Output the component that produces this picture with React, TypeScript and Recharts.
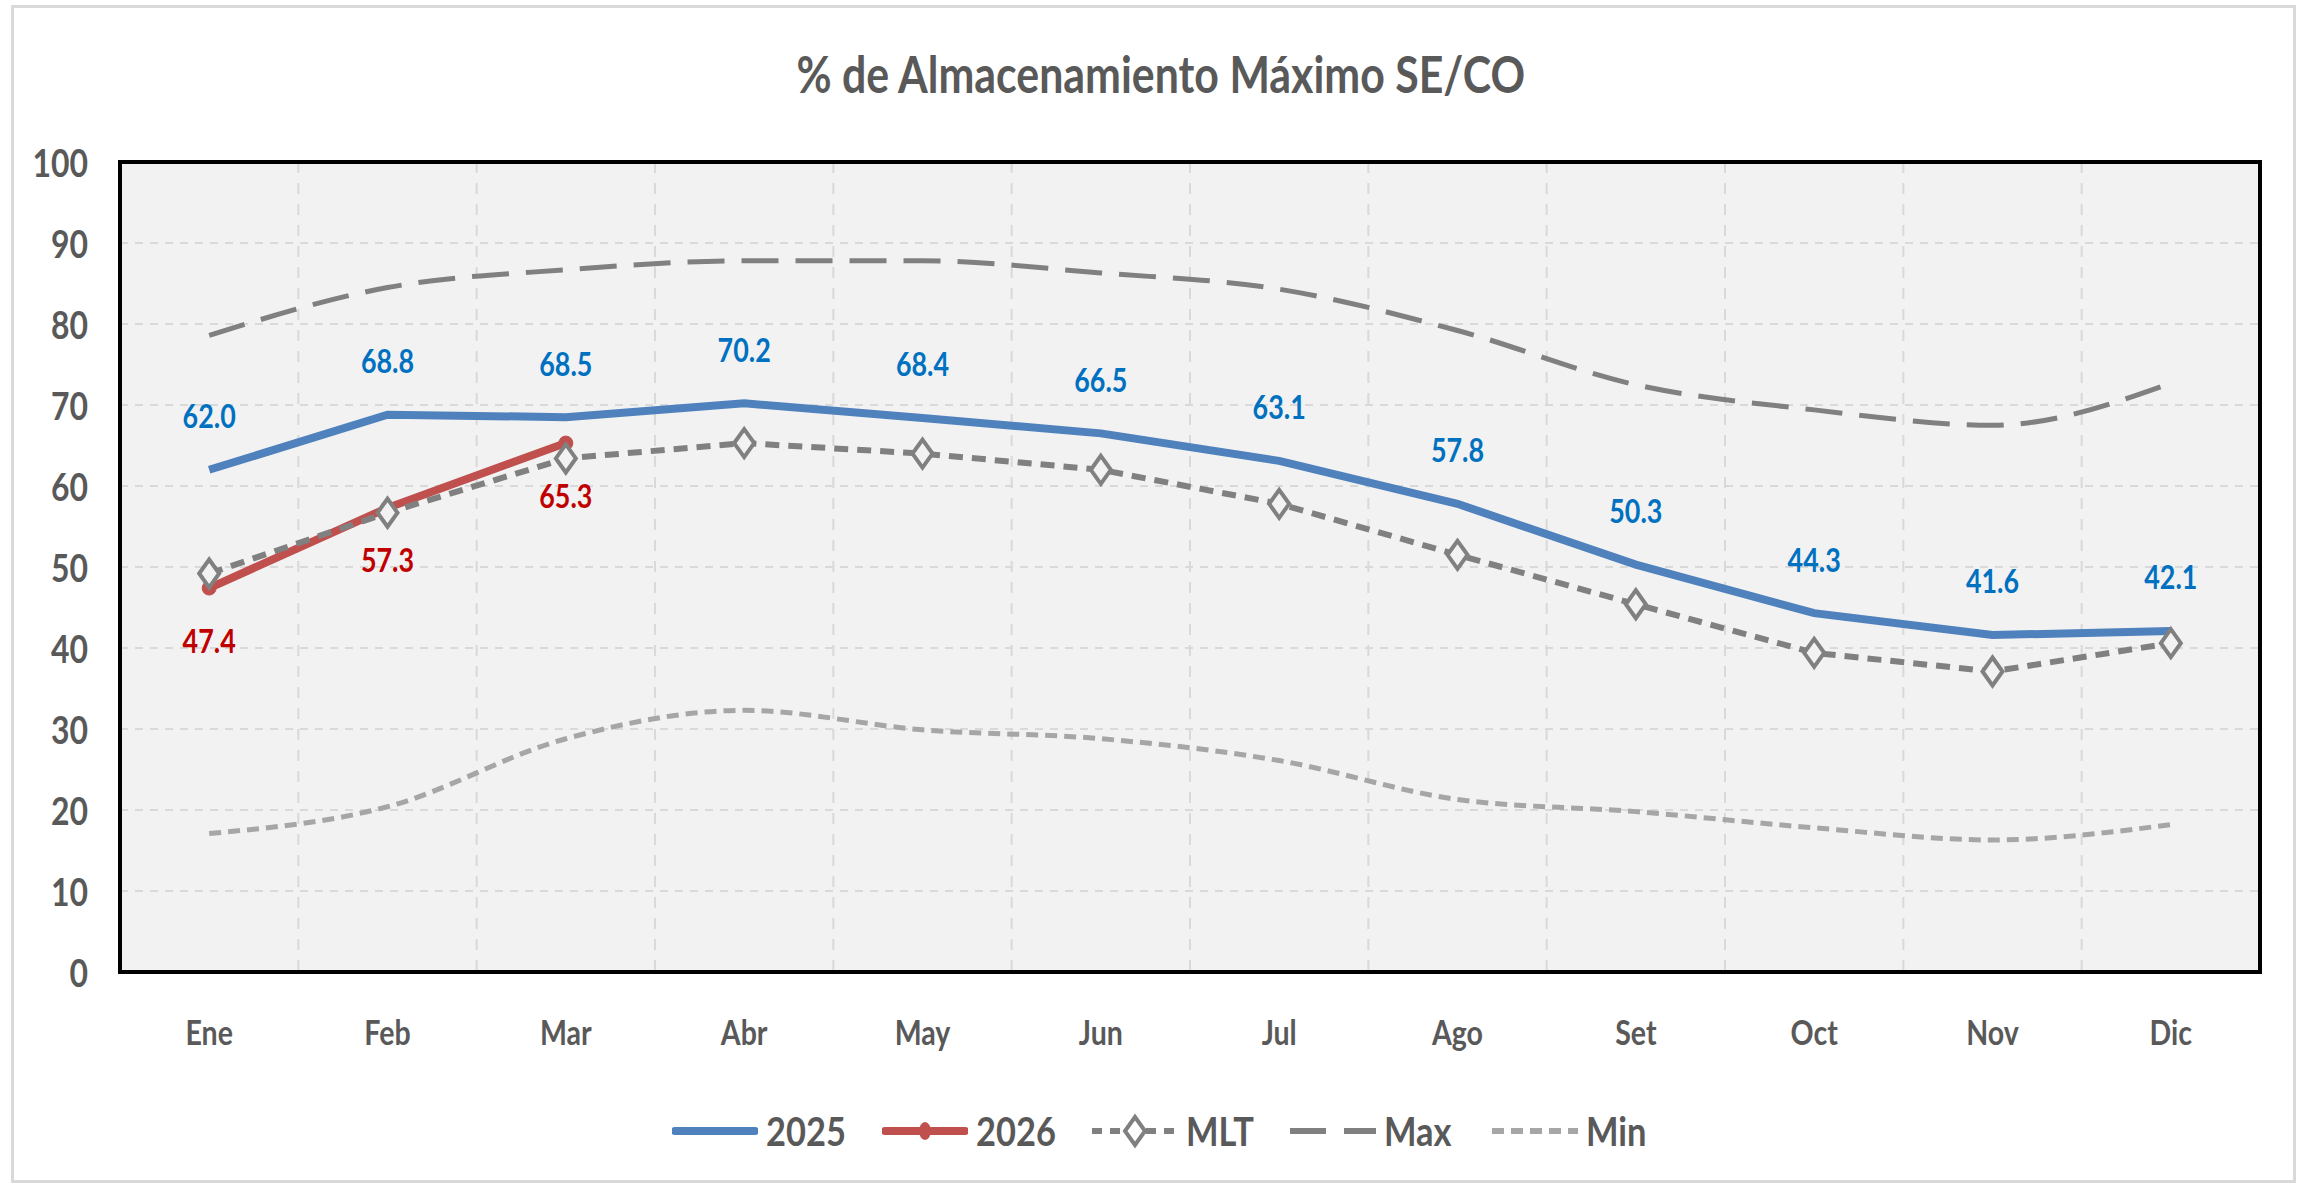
import { LineChart, Line, XAxis, YAxis, CartesianGrid, Legend } from "recharts";

const MONTHS = ["Ene", "Feb", "Mar", "Abr", "May", "Jun", "Jul", "Ago", "Set", "Oct", "Nov", "Dic"];
const S2025 = [62.0, 68.8, 68.5, 70.2, 68.4, 66.5, 63.1, 57.8, 50.3, 44.3, 41.6, 42.1];
const S2026 = [47.4, 57.3, 65.3];
const MLT = [49.2, 56.7, 63.4, 65.3, 64.0, 62.0, 57.8, 51.5, 45.4, 39.4, 37.1, 40.6];
const MAX = [78.6, 84.5, 86.7, 87.8, 87.8, 86.3, 84.3, 79.2, 72.5, 69.4, 67.5, 72.7];
const MIN = [17.1, 20.4, 28.8, 32.3, 29.9, 28.8, 26.1, 21.3, 19.8, 17.8, 16.3, 18.2];
const Y_TICKS = [0, 10, 20, 30, 40, 50, 60, 70, 80, 90, 100];

const FONT = "Lato, 'Open Sans', sans-serif";
const SX = 0.84; // squeeze text horizontally, reference font is narrow
const GREY_TXT = "#595959";
const C2025 = "#4F81BD";
const C2026 = "#C0504D";
const CMLT = "#808080";
const CMAX = "#808080";
const CMIN = "#A6A6A6";

const data = MONTHS.map((m, i) => ({
  m,
  a2025: S2025[i],
  a2026: i < S2026.length ? S2026[i] : null,
  mlt: MLT[i],
  max: MAX[i],
  min: MIN[i],
}));

// narrow svg text
const NText = ({ x, y, anchor = "middle", size, fill, children }: any) => (
  <text transform={`translate(${x},${y}) scale(${SX},1)`} x={0} y={0} textAnchor={anchor}
    dominantBaseline="central" fill={fill}
    style={{ fontFamily: FONT, fontWeight: "bold", fontSize: size }}>
    {children}
  </text>
);

const YTick = ({ x, y, payload }: any) => (
  <NText x={x} y={y} anchor="end" size={38} fill={GREY_TXT}>{payload.value}</NText>
);

const XTick = ({ x, y, payload }: any) => (
  <NText x={x} y={y} size={34} fill={GREY_TXT}>{payload.value}</NText>
);

const labelAbove = (props: any) => {
  const { x, y, value, index } = props;
  if (value == null) return null;
  return (
    <g key={`l25-${index}`}>
      <NText x={x} y={y - 54} size={32} fill="#0070C0">{Number(value).toFixed(1)}</NText>
    </g>
  );
};

const labelBelow = (props: any) => {
  const { x, y, value, index } = props;
  if (value == null) return null;
  return (
    <g key={`l26-${index}`}>
      <NText x={x} y={y + 52} size={32} fill="#C00000">{Number(value).toFixed(1)}</NText>
    </g>
  );
};

const Diamond = (props: any) => {
  const { cx, cy, index } = props;
  if (cx == null || cy == null) return null;
  return (
    <path key={`d-${index}`} d={`M${cx},${cy - 14} L${cx + 10},${cy} L${cx},${cy + 14} L${cx - 10},${cy} Z`}
      fill="#F2F2F2" stroke={CMLT} strokeWidth={4} />
  );
};

const LEGEND = [
  { name: "2025", kind: "solid", w: 76 },
  { name: "2026", kind: "dot", w: 76 },
  { name: "MLT", kind: "mlt", w: 64 },
  { name: "Max", kind: "max", w: 68 },
  { name: "Min", kind: "min", w: 64 },
];

const LegendIcon = ({ kind }: { kind: string }) => (
  <svg width={86} height={40} style={{ display: "block" }}>
    {kind === "solid" && <line x1={3} y1={20} x2={83} y2={20} stroke={C2025} strokeWidth={8} strokeLinecap="round" />}
    {kind === "dot" && (
      <g>
        <line x1={3} y1={20} x2={83} y2={20} stroke={C2026} strokeWidth={8} strokeLinecap="round" />
        <ellipse cx={43} cy={20} rx={6} ry={9} fill={C2026} />
      </g>
    )}
    {kind === "mlt" && (
      <g>
        <line x1={0} y1={20} x2={86} y2={20} stroke={CMLT} strokeWidth={6} strokeDasharray="10 8" />
        <path d="M43,6 L53,20 L43,34 L33,20 Z" fill="#FFFFFF" stroke={CMLT} strokeWidth={4} />
      </g>
    )}
    {kind === "max" && <line x1={0} y1={20} x2={86} y2={20} stroke={CMAX} strokeWidth={6} strokeDasharray="36 18" />}
    {kind === "min" && <line x1={0} y1={20} x2={86} y2={20} stroke={CMIN} strokeWidth={6} strokeDasharray="12 7" />}
  </svg>
);

const LegendBox = () => (
  <div style={{ display: "flex", justifyContent: "center", alignItems: "center", gap: 40, paddingLeft: 16 }}>
    {LEGEND.map((it) => (
      <div key={it.name} style={{ display: "flex", alignItems: "center", gap: 8 }}>
        <LegendIcon kind={it.kind} />
        <div style={{ width: it.w, whiteSpace: "nowrap" }}>
          <span style={{ display: "inline-block", transform: `scaleX(${SX})`, transformOrigin: "left center",
            fontFamily: FONT, fontWeight: "bold", fontSize: 41, color: GREY_TXT }}>{it.name}</span>
        </div>
      </div>
    ))}
  </div>
);

const bandEdges = ({ offset }: any) => {
  const left = offset?.left ?? 120;
  const width = offset?.width ?? 2140;
  return MONTHS.slice(1).map((_, k) => left + (width * (k + 1)) / MONTHS.length);
};

export default function App() {
  return (
    <div style={{ position: "absolute", left: 0, top: 0, width: 2305, height: 1189, background: "#fff" }}>
      <div style={{ position: "absolute", left: 11, top: 5, width: 2285, height: 1178, border: "3px solid #D9D9D9", boxSizing: "border-box" }} />
      <div style={{ position: "absolute", left: 8, top: 44, width: 2305, textAlign: "center", lineHeight: "60px" }}>
        <span style={{ display: "inline-block", transform: `scaleX(${SX})`, fontFamily: FONT, fontWeight: "bold", fontSize: 51, color: GREY_TXT }}>
          % de Almacenamiento Máximo SE/CO
        </span>
      </div>
      <div style={{ position: "absolute", left: 0, top: 0 }}>
        <LineChart width={2305} height={1189} data={data} margin={{ top: 162, right: 45, bottom: 117, left: 20 }}>
          <CartesianGrid horizontal={false} vertical={true} verticalCoordinatesGenerator={bandEdges}
            fill="#F2F2F2" stroke="#D9D9D9" strokeWidth={2} strokeDasharray="11 10" />
          <CartesianGrid horizontal={true} vertical={false} stroke="#D9D9D9" strokeWidth={2} strokeDasharray="8 7" />
          <XAxis dataKey="m" scale="band" height={100} tickLine={false} tickSize={0} tickMargin={60} tick={<XTick />}
            axisLine={false} interval={0} />
          <YAxis domain={[0, 100]} ticks={Y_TICKS} width={100} tickLine={false} tickSize={0} tickMargin={32}
            tick={<YTick />} axisLine={false} />
          <Legend layout="vertical" align="center" verticalAlign="middle" content={() => <LegendBox />}
            wrapperStyle={{ position: "absolute", left: 0, top: 1106, width: 2305 }} />
          <Line dataKey="min" name="Min" type="monotone" stroke={CMIN} strokeWidth={5} strokeDasharray="12 7"
            dot={false} activeDot={false} isAnimationActive={false} />
          <Line dataKey="max" name="Max" type="monotone" stroke={CMAX} strokeWidth={5} strokeDasharray="37 17"
            dot={false} activeDot={false} isAnimationActive={false} />
          <Line dataKey="a2025" name="2025" type="linear" stroke={C2025} strokeWidth={8} dot={false}
            activeDot={false} label={labelAbove} isAnimationActive={false} />
          <Line dataKey="a2026" name="2026" type="linear" stroke={C2026} strokeWidth={8}
            dot={{ r: 7, fill: C2026, stroke: C2026, strokeWidth: 1 }} activeDot={false} label={labelBelow}
            isAnimationActive={false} />
          <Line dataKey="mlt" name="MLT" type="linear" stroke={CMLT} strokeWidth={6} strokeDasharray="14 9"
            dot={<Diamond />} activeDot={false} isAnimationActive={false} />
        </LineChart>
      </div>
      <div style={{ position: "absolute", left: 118, top: 160, width: 2144, height: 814, border: "4px solid #000",
        boxSizing: "border-box", pointerEvents: "none" }} />
    </div>
  );
}
